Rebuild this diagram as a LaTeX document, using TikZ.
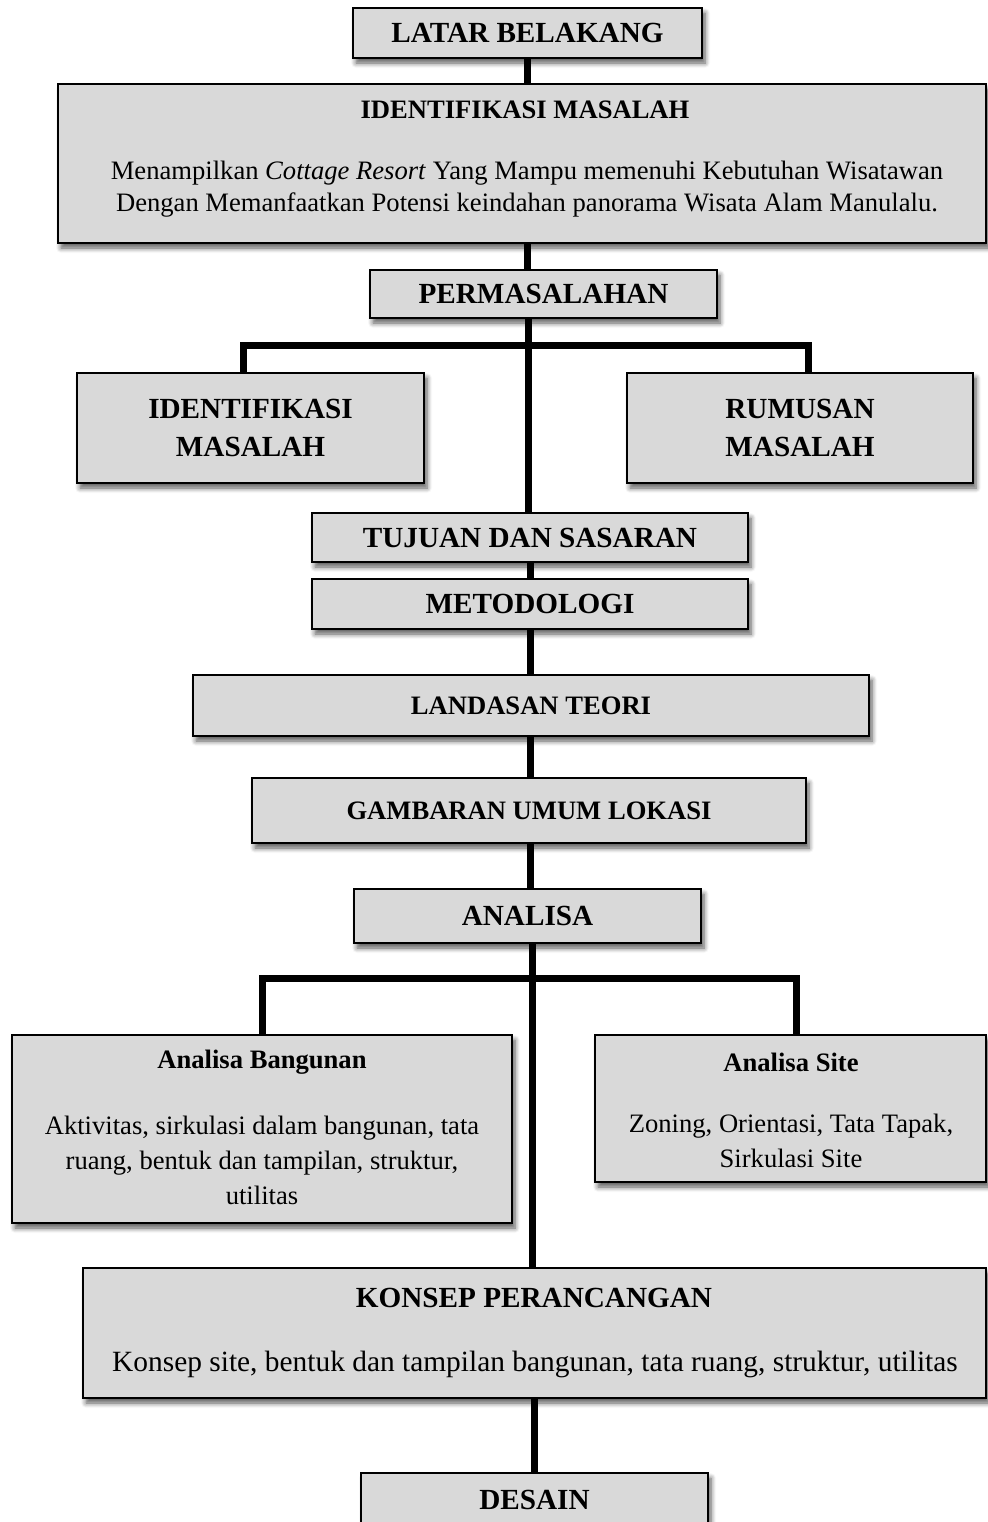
\documentclass[tikz,border=0pt]{standalone}
\usepackage{fontspec}
\setmainfont{Liberation Serif}
\usetikzlibrary{positioning,shadows.blur}
\definecolor{boxgray}{HTML}{D9D9D9}
\tikzset{
    box/.style={
           rectangle,
           draw=black, line width=0.8pt,
           fill=boxgray,
           blur shadow={shadow xshift=1.5pt, shadow yshift=-2.5pt,
                        shadow blur radius=2.5pt, shadow blur steps=6,
                        shadow opacity=65},
           inner sep=0pt,
           text centered, align=center,
           font={\fontsize{14.6pt}{19pt}\selectfont\bfseries},
           },
    smalltitle/.style={font={\fontsize{13.3pt}{16pt}\selectfont\bfseries}},
    heading/.style={inner sep=0pt, font={\fontsize{13.3pt}{16pt}\selectfont\bfseries}},
    body/.style={inner sep=0pt, align=center, font={\fontsize{13.3pt}{17.5pt}\selectfont}},
    link/.style={draw=black, line width=3.5pt},
}

\begin{document}
\begin{tikzpicture}[x=0.5pt,y=-0.5pt]
\useasboundingbox (0,0) rectangle (987,1522);

% Top: background and problem identification
\node[box, minimum width=174.5pt, minimum height=25pt] (LATAR) at (527.5,33) {LATAR BELAKANG};

\node[box, minimum width=464pt, minimum height=79.5pt] (IDENTIFIKASI) at (522,163.5) {};
\node[heading] (IDENTTITLE) at (525,110) {IDENTIFIKASI MASALAH};
\node[body, font={\fontsize{13.3pt}{16pt}\selectfont}] (IDENTTEXT) at (527,189) {Menampilkan \textit{Cottage Resort} Yang Mampu memenuhi Kebutuhan Wisatawan\\
    Dengan Memanfaatkan Potensi keindahan panorama Wisata Alam Manulalu.};

\node[box, minimum width=173.5pt, minimum height=24pt] (PERMASALAHAN) at (543.5,294) {PERMASALAHAN};

% State: the two sub problems
\node[box, minimum width=173.5pt, minimum height=55pt] (IDENTMASALAH) at (250.5,428) {IDENTIFIKASI\\MASALAH};
\node[box, minimum width=173pt, minimum height=55pt] (RUMUSAN) at (800,428) {RUMUSAN\\MASALAH};

% Middle column
\node[box, minimum width=218pt, minimum height=24.5pt] (TUJUAN) at (530,537.5) {TUJUAN DAN SASARAN};
\node[box, minimum width=218pt, minimum height=25pt] (METODOLOGI) at (530,604) {METODOLOGI};
\node[box, smalltitle, minimum width=338pt, minimum height=30.5pt] (LANDASAN) at (531,705.5) {LANDASAN TEORI};
\node[box, smalltitle, minimum width=277pt, minimum height=32.5pt] (GAMBARAN) at (529,810.5) {GAMBARAN UMUM LOKASI};
\node[box, minimum width=173.5pt, minimum height=27pt] (ANALISA) at (527.5,916) {ANALISA};

% State: the two analyses
\node[box, minimum width=250pt, minimum height=94pt] (BANGUNAN) at (262,1129) {};
\node[heading] (BANGUNANTITLE) at (262,1062) {Analisa Bangunan};
\node[body] (BANGUNANTEXT) at (262,1160) {Aktivitas, sirkulasi dalam bangunan, tata\\
    ruang, bentuk dan tampilan, struktur,\\utilitas};

\node[box, minimum width=195.5pt, minimum height=73.5pt] (SITE) at (790.5,1108.5) {};
\node[heading] (SITETITLE) at (791,1062) {Analisa Site};
\node[body] (SITETEXT) at (791,1141) {Zoning, Orientasi, Tata Tapak,\\Sirkulasi Site};

% Bottom: concept and design
\node[box, minimum width=451.5pt, minimum height=65pt] (KONSEP) at (534.5,1333) {};
\node[heading, font={\fontsize{14.6pt}{18pt}\selectfont\bfseries}] (KONSEPTITLE) at (534,1298) {KONSEP PERANCANGAN};
\node[body, font={\fontsize{14.7pt}{18pt}\selectfont}] (KONSEPTEXT) at (535,1364) {Konsep site, bentuk dan tampilan bangunan, tata ruang, struktur, utilitas};

\node[box, minimum width=173.5pt, minimum height=27pt] (DESAIN) at (534.5,1500) {DESAIN};

% Connectors
\coordinate (PERMFORK) at (528,345);
\coordinate (ANALISAFORK) at (532,978);

\draw[link] (LATAR.south) -- (LATAR.south |- IDENTIFIKASI.north);
\draw[link] (LATAR.south |- IDENTIFIKASI.south) -- (LATAR.south |- PERMASALAHAN.north);
\draw[link] (PERMFORK |- PERMASALAHAN.south) -- (PERMFORK |- TUJUAN.north);
\draw[link] ([xshift=-3.5pt]IDENTMASALAH.north) |- (PERMFORK) -| ([xshift=4pt]RUMUSAN.north);
\draw[link] (TUJUAN.south) -- (METODOLOGI.north);
\draw[link] (METODOLOGI.south) -- (METODOLOGI.south |- LANDASAN.north);
\draw[link] (METODOLOGI.south |- LANDASAN.south) -- (METODOLOGI.south |- GAMBARAN.north);
\draw[link] (METODOLOGI.south |- GAMBARAN.south) -- (METODOLOGI.south |- ANALISA.north);
\draw[link] (ANALISAFORK |- ANALISA.south) -- (ANALISAFORK |- KONSEP.north);
\draw[link] (BANGUNAN.north) |- (ANALISAFORK) -| ([xshift=2.75pt]SITE.north);
\draw[link] (DESAIN.north |- KONSEP.south) -- (DESAIN.north);

\end{tikzpicture}
\end{document}
